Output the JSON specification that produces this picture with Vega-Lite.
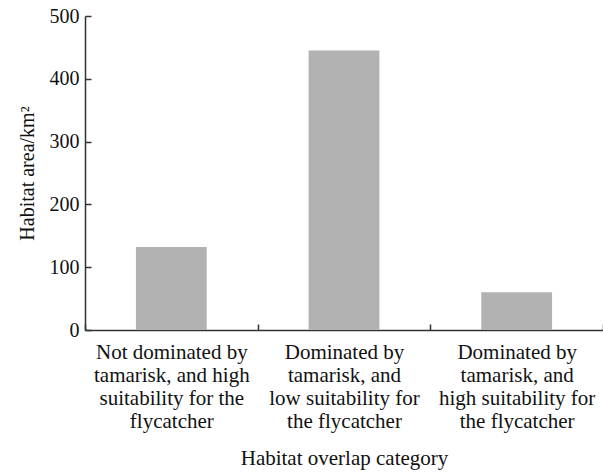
{
  "$schema": "https://vega.github.io/schema/vega-lite/v6.json",
  "width": 518,
  "height": 314,
  "autosize": "none",
  "padding": {"left": 85, "top": 16, "right": 0, "bottom": 143},
  "background": "white",
  "data": {
    "values": [
      {"category": "Not dominated by|tamarisk, and high|suitability for the|flycatcher", "area": 132},
      {"category": "Dominated by|tamarisk, and|low suitability for|the flycatcher", "area": 445},
      {"category": "Dominated by|tamarisk, and|high suitability for|the flycatcher", "area": 60}
    ]
  },
  "config": {
    "view": {"stroke": null},
    "font": "Liberation Serif",
    "axis": {
      "labelFont": "Liberation Serif",
      "titleFont": "Liberation Serif",
      "labelFontSize": 20,
      "titleFontSize": 20,
      "titleFontWeight": "normal",
      "labelColor": "#111",
      "titleColor": "#111",
      "domainColor": "#333",
      "tickColor": "#333",
      "domainWidth": 1.5,
      "tickWidth": 1.5,
      "grid": false
    }
  },
  "mark": {"type": "bar", "color": "#b2b2b2", "width": {"band": 0.41}},
  "encoding": {
    "x": {
      "field": "category",
      "type": "nominal",
      "sort": null,
      "scale": {"paddingInner": 0, "paddingOuter": 0},
      "axis": {
        "title": "Habitat overlap category",
        "labelFontSize": 21,
        "titleFontSize": 21,
        "labelAngle": 0,
        "labelExpr": "split(datum.label, '|')",
        "labelLineHeight": 23,
        "labelBaseline": "top",
        "ticks": true,
        "tickBand": "extent",
        "tickSize": -6,
        "labelPadding": 17,
        "titlePadding": 16
      }
    },
    "y": {
      "field": "area",
      "type": "quantitative",
      "scale": {"domain": [0, 500], "nice": false},
      "axis": {
        "title": "Habitat area/km²",
        "values": [0, 100, 200, 300, 400, 500],
        "ticks": true,
        "tickSize": -6,
        "labelPadding": 12,
        "titlePadding": 12
      }
    }
  }
}
